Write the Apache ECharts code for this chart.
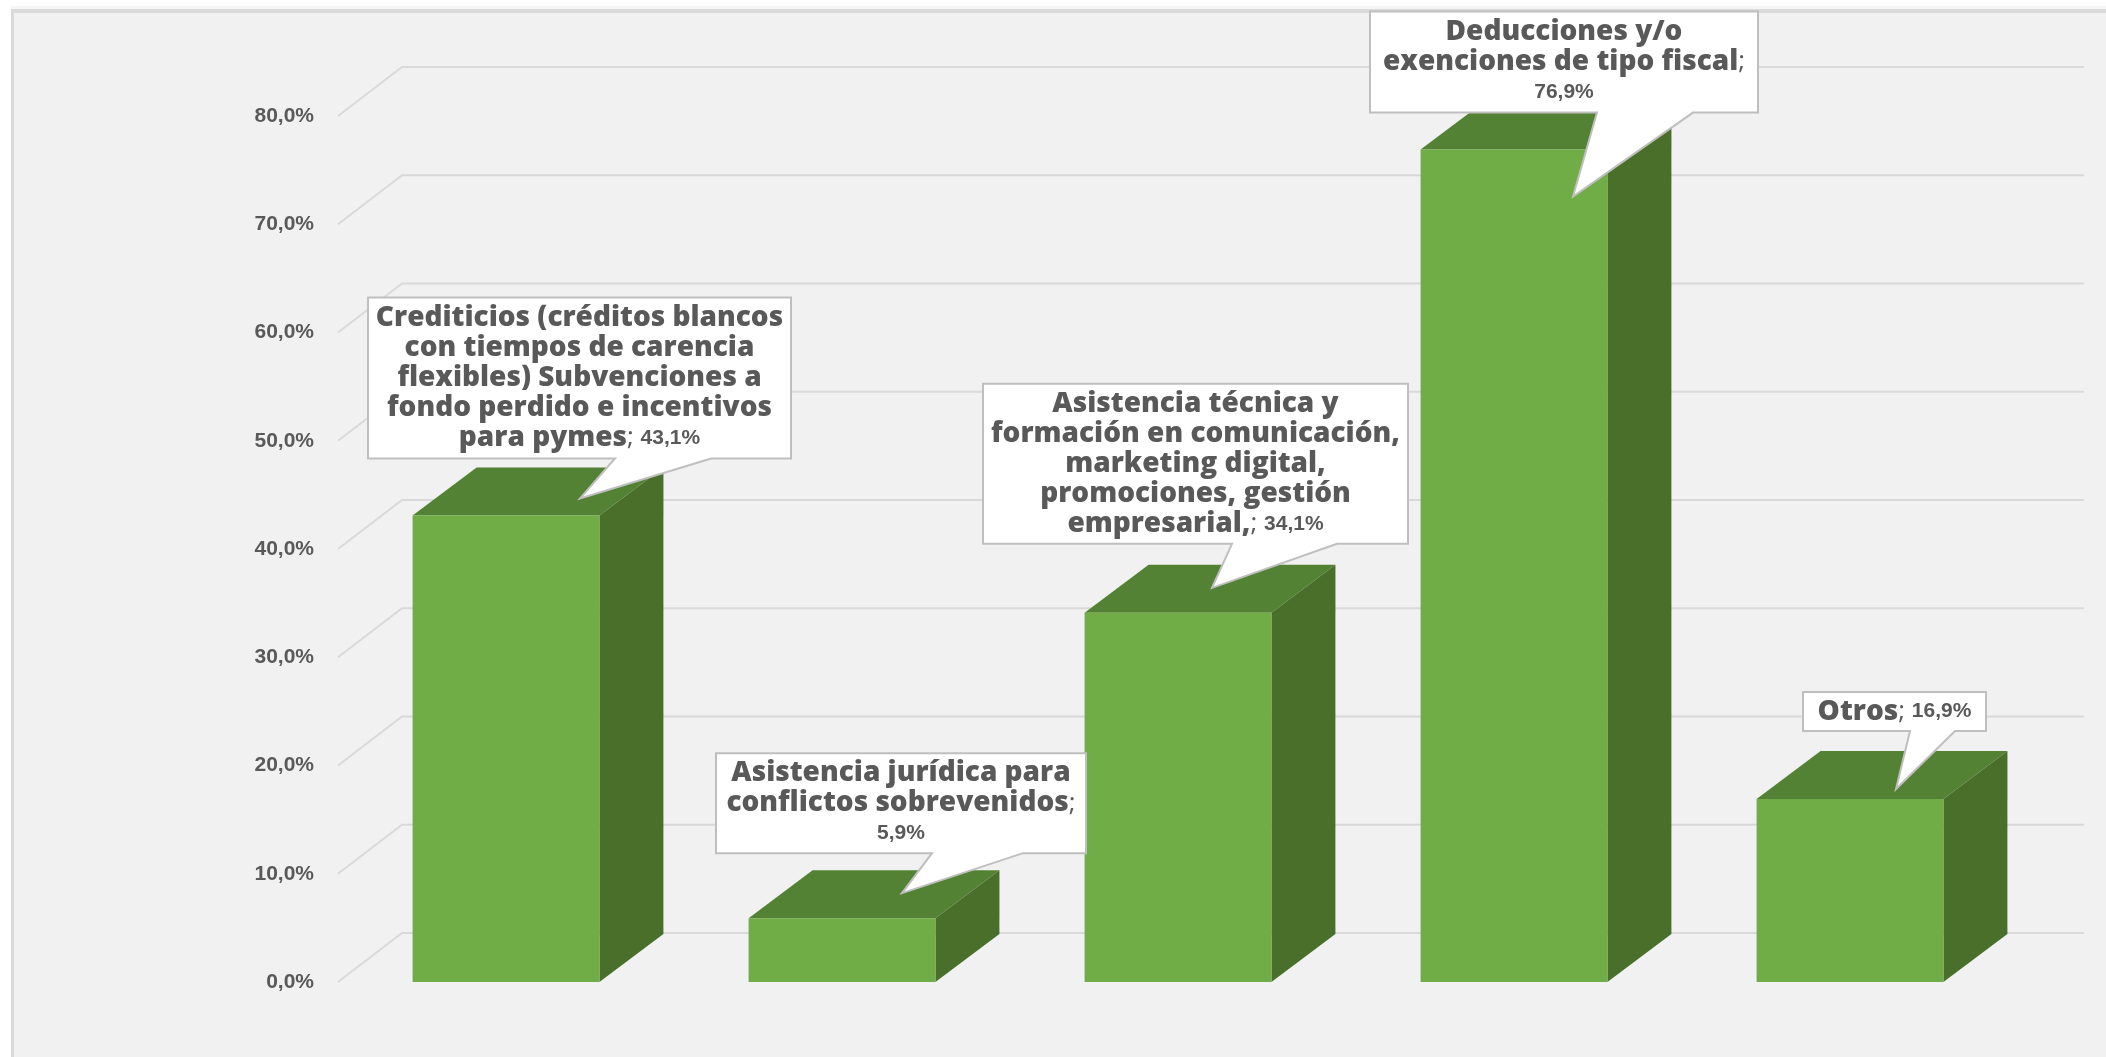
<!DOCTYPE html>
<html>
<head>
<meta charset="utf-8">
<title>Incentivos</title>
<style>
  html, body { margin: 0; padding: 0; background: #fff; overflow: hidden; }
  #frame {
    position: absolute; left: 11px; top: 9px; right: 0; bottom: 0;
    background: #f1f1f1;
    border-left: 3px solid #d9d9d9;
    border-top: 4px solid #d9d9d9;
    box-shadow: 0 -3px 0 #f6f6f6;
  }
  #chart { position: absolute; left: 0; top: 0; width: 2106px; height: 1057px; }
</style>
</head>
<body>
<div id="frame"></div>
<div id="chart"></div>
<script src="https://cdn.jsdelivr.net/npm/echarts@6/dist/echarts.min.js"></script>
<script>
const categories = [
  'Crediticios (créditos blancos\ncon tiempos de carencia\nflexibles) Subvenciones a\nfondo perdido e incentivos\npara pymes',
  'Asistencia jurídica para\nconflictos sobrevenidos',
  'Asistencia técnica y\nformación en comunicación,\nmarketing digital,\npromociones, gestión\nempresarial,',
  'Deducciones y/o\nexenciones de tipo fiscal',
  'Otros'
]
const values = [43.1, 5.9, 34.1, 76.9, 16.9]
const yTicks = [0, 10, 20, 30, 40, 50, 60, 70, 80]

// callout placement, in px relative to the top centre of each bar
const callouts = [
  { left: -138, right: 285, top: -218, bottom: -57, base: [109, 205], tip: [74, -17] },
  { left: -126, right: 244, top: -165, bottom: -65, base: [90, 181], tip: [60, -25], valueBreak: true },
  { left: -195, right: 230, top: -229, bottom: -69, base: [54, 159], tip: [34, -25] },
  { left: -144, right: 244, top: -138, bottom: -37, base: [83, 179], tip: [59, 47], valueBreak: true },
  { left: -47, right: 136, top: -107, bottom: -68, base: [60, 105], tip: [46, -10] }
]

const barRatio = 0.556
const barDepth = [64, 48]
const wallDepth = [64, 49]
const wallOverrun = 66

const fmt = v => v.toFixed(1).replace('.', ',') + '%'

function renderWall(params, api) {
  const cs = params.coordSys
  const y = api.coord([0, api.value(1)])[1]
  return {
    type: 'polyline',
    shape: { points: [[cs.x, y], [cs.x + wallDepth[0], y - wallDepth[1]], [cs.x + cs.width + wallOverrun, y - wallDepth[1]]] },
    style: { fill: null, stroke: '#d9d9d9', lineWidth: 2 }
  }
}

function renderBar(params, api) {
  const top = api.coord([api.value(0), api.value(1)])
  const base = api.coord([api.value(0), 0])
  const w = api.size([1, 0])[0] * barRatio
  const l = top[0] - w / 2
  const r = top[0] + w / 2
  const dx = barDepth[0]
  const dy = barDepth[1]
  return {
    type: 'group',
    children: [
      { type: 'polygon', shape: { points: [[l, top[1]], [l + dx, top[1] - dy], [r + dx, top[1] - dy], [r, top[1]]] }, style: { fill: '#548235' } },
      { type: 'polygon', shape: { points: [[r, top[1]], [r + dx, top[1] - dy], [r + dx, base[1] - dy], [r, base[1]]] }, style: { fill: '#4a6f2a' } },
      { type: 'rect', shape: { x: l, y: top[1], width: w, height: base[1] - top[1] }, style: { fill: '#70ad47' } }
    ]
  }
}

function renderCallout(params, api) {
  const i = params.dataIndex
  const c = callouts[i]
  const p = api.coord([api.value(0), api.value(1)])
  const at = (x, y) => [p[0] + x, p[1] + y]
  const sep = c.valueBreak ? '{s|;}\n{v|' : '{s|; }{v|'
  const text = categories[i].split('\n').map(t => '{n|' + t + '}').join('\n') + sep + fmt(values[i]) + '}'
  return {
    type: 'group',
    children: [
      {
        type: 'polygon',
        shape: {
          points: [
            at(c.left, c.top), at(c.right, c.top), at(c.right, c.bottom),
            at(c.base[1], c.bottom), at(c.tip[0], c.tip[1]), at(c.base[0], c.bottom),
            at(c.left, c.bottom)
          ]
        },
        style: { fill: '#fff', stroke: '#bfbfbf', lineWidth: 2 }
      },
      {
        type: 'text',
        x: p[0] + (c.left + c.right) / 2,
        y: p[1] + (c.top + c.bottom) / 2,
        style: {
          text: text,
          align: 'center',
          verticalAlign: 'middle',
          rich: {
            n: { font: '800 28px "Open Sans"', fill: '#595959', lineHeight: 30 },
            s: { font: '400 26px "Open Sans"', fill: '#595959', lineHeight: 30 },
            v: { font: 'bold 21px "Liberation Sans"', fill: '#595959', lineHeight: 30 }
          }
        }
      }
    ]
  }
}

const myChart = echarts.init(document.getElementById('chart'))
myChart.setOption({
  animation: false,
  backgroundColor: 'transparent',
  grid: { left: 338, right: 88, top: 116, bottom: 75 },
  xAxis: {
    type: 'category',
    data: categories,
    axisLine: { show: false },
    axisTick: { show: false },
    axisLabel: { show: false }
  },
  yAxis: {
    type: 'value',
    min: 0,
    max: 80,
    interval: 10,
    axisLine: { show: false },
    axisTick: { show: false },
    splitLine: { show: false },
    axisLabel: {
      margin: 24,
      color: '#595959',
      fontFamily: 'Liberation Sans',
      fontWeight: 'bold',
      fontSize: 21,
      formatter: fmt
    }
  },
  series: [
    { type: 'custom', z: 1, silent: true, renderItem: renderWall, data: yTicks.map(t => [0, t]) },
    { type: 'custom', z: 2, silent: true, renderItem: renderBar, data: values.map((v, i) => [i, v]) },
    { type: 'custom', z: 3, silent: true, renderItem: renderCallout, data: values.map((v, i) => [i, v]) }
  ]
})
</script>
</body>
</html>
